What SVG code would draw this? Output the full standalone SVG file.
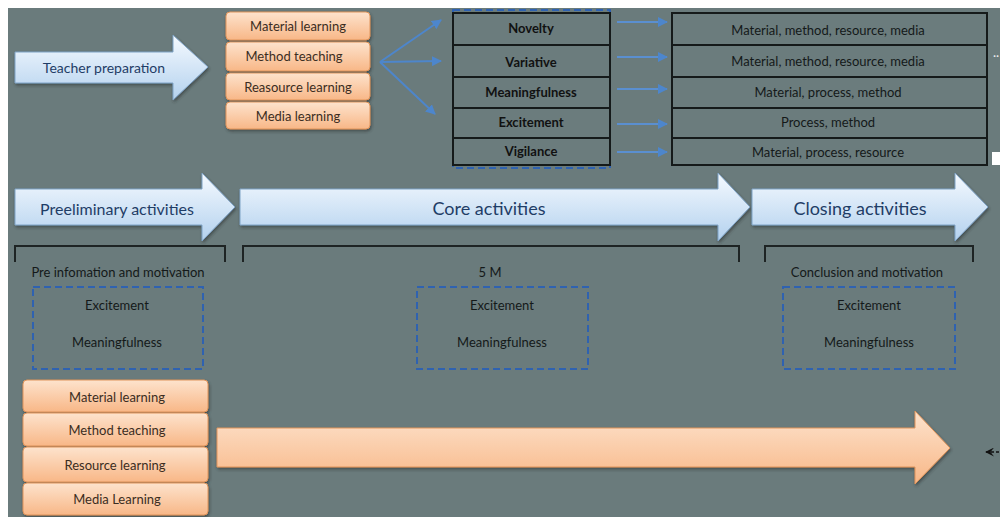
<svg xmlns="http://www.w3.org/2000/svg" width="1000" height="517" viewBox="0 0 1000 517">
<defs>
<linearGradient id="gBlue" x1="0" y1="0" x2="0" y2="1">
<stop offset="0" stop-color="#f5faff"/>
<stop offset="1" stop-color="#b3d1ee"/>
</linearGradient>
<linearGradient id="gOrange" x1="0" y1="0" x2="0" y2="1">
<stop offset="0" stop-color="#fde3cd"/>
<stop offset="1" stop-color="#f8b787"/>
</linearGradient>
<filter id="sh" x="-5%" y="-20%" width="110%" height="140%">
<feDropShadow dx="1" dy="2" stdDeviation="1.5" flood-color="#2a3535" flood-opacity="0.6"/>
</filter>
<marker id="ah" viewBox="0 0 10 10" refX="9" refY="5" markerWidth="5" markerHeight="5" orient="auto">
<path d="M0,0 L10,5 L0,10 z" fill="#4d86cc"/>
</marker>
<marker id="ahk" viewBox="0 0 10 10" refX="1" refY="5" markerWidth="6" markerHeight="6" orient="auto">
<path d="M10,0 L0,5 L10,10 L6,5 z" fill="#111"/>
</marker>
</defs>
<style>
.bl{fill:url(#gBlue);stroke:#7fa3c6;stroke-width:1;filter:url(#sh)}
.or{fill:url(#gOrange);stroke:#e0945a;stroke-width:1;filter:url(#sh)}
.cell{fill:#6b7c7d;stroke:#151a1a;stroke-width:2}
.dash{fill:none;stroke:#2f62b0;stroke-width:2;stroke-dasharray:7 4}
.brk{fill:none;stroke:#1e2424;stroke-width:2}
.t{font-family:Lato,"Liberation Sans",sans-serif;text-anchor:middle;dominant-baseline:central}
.tb{fill:#1f3d66}
.to{fill:#3b2d22;font-size:13px}
.tk{fill:#111;font-size:13px;font-weight:bold}
.tg{fill:#141919;font-size:13px}
.fan{stroke:#4d86cc;stroke-width:2;fill:none;marker-end:url(#ah)}
.sm{stroke:#5a8fd0;stroke-width:2;fill:none;marker-end:url(#ah)}
</style>
<rect x="0" y="0" width="1000" height="517" fill="#ffffff"/>
<rect x="8" y="8" width="992" height="509" fill="#6a7b7c"/>
<rect x="992" y="152" width="8" height="13" fill="#ffffff"/>

<g id="teacher-preparation">
<polygon class="bl" points="15,52 173,52 173,35 208,67 173,100 173,83 15,83"/>
<text class="t tb" x="104" y="67" font-size="14">Teacher preparation</text>
</g>

<g id="top-resources">
<rect class="or" x="226" y="12" width="144" height="28" rx="4"/>
<text class="t to" x="298" y="26">Material learning</text>
<rect class="or" x="226" y="42" width="144" height="29" rx="4"/>
<text class="t to" x="294" y="56">Method teaching</text>
<rect class="or" x="226" y="73" width="144" height="27" rx="4"/>
<text class="t to" x="298" y="87" font-size="12">Reasource learning</text>
<rect class="or" x="226" y="102" width="144" height="27" rx="4"/>
<text class="t to" x="298" y="116">Media learning</text>
</g>

<g id="principles">
<rect class="dash" x="453" y="10" width="157" height="158"/>
<rect class="cell" x="453" y="13" width="157" height="32"/>
<text class="t tk" x="531" y="28">Novelty</text>
<rect class="cell" x="453" y="45" width="157" height="32"/>
<text class="t tk" x="531" y="62">Variative</text>
<rect class="cell" x="453" y="77" width="157" height="31"/>
<text class="t tk" x="531" y="92">Meaningfulness</text>
<rect class="cell" x="453" y="108" width="157" height="30"/>
<text class="t tk" x="531" y="122">Excitement</text>
<rect class="cell" x="453" y="138" width="157" height="27"/>
<text class="t tk" x="531" y="151">Vigilance</text>
</g>

<g id="aspects">
<rect class="cell" x="672" y="13" width="315" height="32"/>
<text class="t tg" x="828" y="30">Material, method, resource, media</text>
<rect class="cell" x="672" y="45" width="315" height="32"/>
<text class="t tg" x="828" y="61">Material, method, resource, media</text>
<rect class="cell" x="672" y="77" width="315" height="31"/>
<text class="t tg" x="828" y="92">Material, process, method</text>
<rect class="cell" x="672" y="108" width="315" height="30"/>
<text class="t tg" x="828" y="122">Process, method</text>
<rect class="cell" x="672" y="138" width="315" height="27"/>
<text class="t tg" x="828" y="152">Material, process, resource</text>
<text x="993" y="60" font-family="Lato,sans-serif" font-size="12" fill="#e8ecec">··</text>
</g>

<g id="preliminary-activities">
<polygon class="bl" points="15,189 202,189 202,173 235,207 202,241 202,225 15,225"/>
<text class="t tb" x="117" y="208" font-size="16">Preeliminary activities</text>
<path class="brk" d="M15,262 V246 H225 V262"/>
<text class="t tg" x="118" y="272" font-size="12">Pre infomation and motivation</text>
<rect class="dash" x="33" y="287" width="170" height="82"/>
<text class="t tg" x="117" y="305">Excitement</text>
<text class="t tg" x="117" y="342">Meaningfulness</text>
</g>

<g id="core-activities">
<polygon class="bl" points="240,189 718,189 718,173 750,207 718,241 718,225 240,225"/>
<text class="t tb" x="489" y="208" font-size="18">Core activities</text>
<path class="brk" d="M243,262 V246 H739 V262"/>
<text class="t tg" x="490" y="272" font-size="12">5 M</text>
<rect class="dash" x="417" y="287" width="171" height="82"/>
<text class="t tg" x="502" y="305">Excitement</text>
<text class="t tg" x="502" y="342">Meaningfulness</text>
</g>

<g id="closing-activities">
<polygon class="bl" points="752,189 955,189 955,173 988,207 955,241 955,225 752,225"/>
<text class="t tb" x="860" y="208" font-size="18">Closing activities</text>
<path class="brk" d="M765,262 V246 H973 V262"/>
<text class="t tg" x="867" y="272" font-size="12.5">Conclusion and motivation</text>
<rect class="dash" x="783" y="287" width="172" height="82"/>
<text class="t tg" x="869" y="305">Excitement</text>
<text class="t tg" x="869" y="342">Meaningfulness</text>
</g>

<g id="bottom-resources">
<rect class="or" x="23" y="380" width="185" height="32" rx="4"/>
<text class="t to" x="117" y="397">Material learning</text>
<rect class="or" x="23" y="413" width="185" height="33" rx="4"/>
<text class="t to" x="117" y="430">Method teaching</text>
<rect class="or" x="23" y="447" width="185" height="35" rx="4"/>
<text class="t to" x="115" y="465">Resource learning</text>
<rect class="or" x="23" y="483" width="185" height="32" rx="4"/>
<text class="t to" x="117" y="499">Media Learning</text>
</g>

<g id="bottom-arrow">
<polygon class="or" points="217,428 915,428 915,411 950,448 915,484 915,467 217,467"/>
</g>

<g id="connectors">
<line class="fan" x1="380" y1="62" x2="441" y2="20"/>
<line class="fan" x1="380" y1="62" x2="441" y2="61"/>
<line class="fan" x1="380" y1="62" x2="435" y2="114"/>
<line class="sm" x1="617" y1="22" x2="667" y2="22"/>
<line class="sm" x1="617" y1="57" x2="667" y2="57"/>
<line class="sm" x1="617" y1="89" x2="667" y2="89"/>
<line class="sm" x1="617" y1="124" x2="667" y2="124"/>
<line class="sm" x1="617" y1="152" x2="667" y2="152"/>
<line x1="986" y1="452" x2="1000" y2="452" stroke="#111" stroke-width="1.5" stroke-dasharray="3 2" marker-start="url(#ahk)"/>
</g>
</svg>
